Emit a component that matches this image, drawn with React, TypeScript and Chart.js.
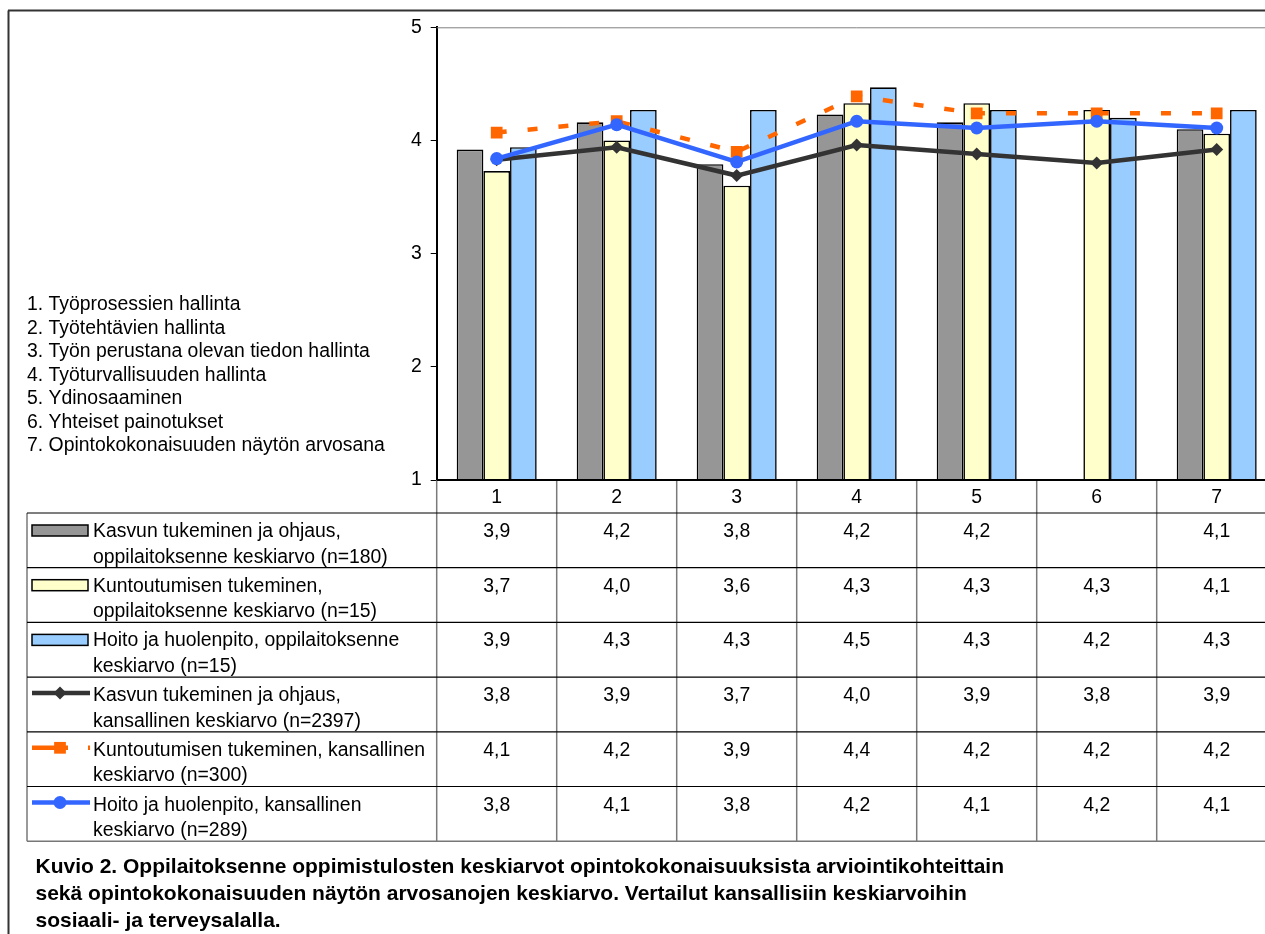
import { useEffect, useRef } from "react";
import { Chart, registerables } from "chart.js";

Chart.register(...registerables);

const categories = ["1", "2", "3", "4", "5", "6", "7"];
const categoryNames = [
  "1. Työprosessien hallinta",
  "2. Työtehtävien hallinta",
  "3. Työn perustana olevan tiedon hallinta",
  "4. Työturvallisuuden hallinta",
  "5. Ydinosaaminen",
  "6. Yhteiset painotukset",
  "7. Opintokokonaisuuden näytön arvosana",
];
const kasvunLocal = [3.92, 4.16, 3.79, 4.23, 4.16, null, 4.1];
const kuntoLocal = [3.73, 4.0, 3.6, 4.33, 4.33, 4.27, 4.06];
const hoitoLocal = [3.94, 4.27, 4.27, 4.47, 4.27, 4.2, 4.27];
const kasvunNational = [3.83, 3.94, 3.69, 3.96, 3.88, 3.8, 3.92];
const kuntoNational = [4.07, 4.17, 3.9, 4.39, 4.24, 4.24, 4.24];
const hoitoNational = [3.84, 4.14, 3.81, 4.17, 4.11, 4.17, 4.11];

const seriesLabels = [
  ["Kasvun tukeminen ja ohjaus,", "oppilaitoksenne keskiarvo (n=180)"],
  ["Kuntoutumisen tukeminen,", "oppilaitoksenne keskiarvo (n=15)"],
  ["Hoito ja huolenpito, oppilaitoksenne", "keskiarvo (n=15)"],
  ["Kasvun tukeminen ja ohjaus,", "kansallinen keskiarvo (n=2397)"],
  ["Kuntoutumisen tukeminen, kansallinen", "keskiarvo (n=300)"],
  ["Hoito ja huolenpito, kansallinen", "keskiarvo (n=289)"],
];
const yMin = 1;
const yMax = 5;
const captionLines = [
  "Kuvio 2. Oppilaitoksenne oppimistulosten keskiarvot opintokokonaisuuksista arviointikohteittain",
  "sekä opintokokonaisuuden näytön arvosanojen keskiarvo. Vertailut kansallisiin keskiarvoihin",
  "sosiaali- ja terveysalalla.",
];

const FONT = '"Liberation Sans", Arial, Helvetica, sans-serif';
const TEXT_SIZE = 19.4;

const fmt = (v: number | null) => (v == null ? "" : v.toFixed(1).replace(".", ","));

const tablePlugin = {
  id: "excelTable",
  afterDraw(chart: any) {
    const ctx = chart.ctx as CanvasRenderingContext2D;
    const area = chart.chartArea;
    const xs = chart.scales.x;
    const n = categories.length;
    const colW = (area.right - area.left) / n;
    const tableLeft = 27;
    const headerTop = area.bottom;
    const rowTop0 = 513;
    const rowH = 54.7;
    const nRows = chart.data.datasets.length;
    const tableBottom = rowTop0 + nRows * rowH;

    ctx.save();

    // outer frame
    ctx.strokeStyle = "#333";
    ctx.lineWidth = 2;
    ctx.beginPath();
    ctx.moveTo(8, 10.5);
    ctx.lineTo(1300, 10.5);
    ctx.moveTo(8.5, 10.5);
    ctx.lineTo(8.5, 940);
    ctx.stroke();

    // plot area top border
    ctx.strokeStyle = "#808080";
    ctx.lineWidth = 1;
    ctx.beginPath();
    ctx.moveTo(area.left, area.top + 0.5);
    ctx.lineTo(area.right, area.top + 0.5);
    ctx.stroke();

    // vertical table lines
    ctx.strokeStyle = "#7a7a7a";
    ctx.lineWidth = 1.5;
    ctx.beginPath();
    for (let k = 0; k <= n; k++) {
      const xx = area.left + k * colW;
      ctx.moveTo(xx, headerTop);
      ctx.lineTo(xx, tableBottom);
    }
    ctx.moveTo(tableLeft, rowTop0);
    ctx.lineTo(tableLeft, tableBottom);
    ctx.stroke();

    // horizontal lines
    ctx.strokeStyle = "#000";
    ctx.lineWidth = 1.2;
    ctx.beginPath();
    for (let r = 0; r < nRows; r++) {
      const yy = rowTop0 + r * rowH;
      ctx.moveTo(tableLeft, yy);
      ctx.lineTo(area.right, yy);
    }
    ctx.stroke();
    ctx.strokeStyle = "#777";
    ctx.lineWidth = 1.5;
    ctx.beginPath();
    ctx.moveTo(tableLeft, tableBottom);
    ctx.lineTo(area.right, tableBottom);
    ctx.stroke();

    // x axis line
    ctx.strokeStyle = "#000";
    ctx.lineWidth = 2;
    ctx.beginPath();
    ctx.moveTo(area.left, area.bottom);
    ctx.lineTo(area.right, area.bottom);
    ctx.stroke();

    // header labels
    ctx.fillStyle = "#000";
    ctx.font = `${TEXT_SIZE}px ${FONT}`;
    ctx.textAlign = "center";
    ctx.textBaseline = "alphabetic";
    categories.forEach((c, i) => {
      ctx.fillText(c, xs.getPixelForValue(i), headerTop + 23);
    });

    // rows
    chart.data.datasets.forEach((ds: any, r: number) => {
      const top = rowTop0 + r * rowH;
      ctx.textAlign = "center";
      ctx.fillStyle = "#000";
      ds.data.forEach((v: number | null, i: number) => {
        ctx.fillText(fmt(v), xs.getPixelForValue(i), top + 24);
      });
      ctx.textAlign = "left";
      const lines = seriesLabels[r];
      ctx.fillText(lines[0], 93, top + 24);
      ctx.fillText(lines[1], 93, top + 49.5);
      if (ds.type === "bar") {
        ctx.fillStyle = ds.backgroundColor;
        ctx.fillRect(32, top + 12, 56, 11);
        ctx.strokeStyle = "#000";
        ctx.lineWidth = 1.5;
        ctx.strokeRect(32, top + 12, 56, 11);
      } else {
        const cy = top + 16;
        ctx.strokeStyle = ds.borderColor;
        ctx.lineWidth = ds.borderWidth;
        ctx.setLineDash(ds.borderDash && ds.borderDash.length ? [36, 20] : []);
        ctx.beginPath();
        ctx.moveTo(32, cy);
        ctx.lineTo(90, cy);
        ctx.stroke();
        ctx.setLineDash([]);
        ctx.fillStyle = ds.borderColor;
        const mx = 60;
        const rr = ds.pointRadius;
        ctx.beginPath();
        if (ds.pointStyle === "circle") {
          ctx.arc(mx, cy, rr, 0, Math.PI * 2);
        } else if (ds.pointStyle === "rectRot") {
          ctx.moveTo(mx, cy - rr);
          ctx.lineTo(mx + rr, cy);
          ctx.lineTo(mx, cy + rr);
          ctx.lineTo(mx - rr, cy);
          ctx.closePath();
        } else {
          const h = rr * Math.SQRT1_2;
          ctx.rect(mx - h, cy - h, 2 * h, 2 * h);
        }
        ctx.fill();
      }
    });

    // category list
    ctx.fillStyle = "#000";
    ctx.textAlign = "left";
    ctx.font = `${TEXT_SIZE}px ${FONT}`;
    categoryNames.forEach((t, i) => {
      ctx.fillText(t, 27, 310 + i * 23.5);
    });

    // caption
    ctx.font = `bold 21px ${FONT}`;
    captionLines.forEach((t, i) => {
      ctx.fillText(t, 35.5, 873 + i * 27);
    });

    ctx.restore();
  },
};

export default function App() {
  const ref = useRef<HTMLCanvasElement | null>(null);

  useEffect(() => {
    if (!ref.current) return;
    const barCommon = {
      type: "bar" as const,
      borderColor: "#000000",
      borderWidth: 1.6,
      borderSkipped: "start",
      categoryPercentage: 0.6667,
      barPercentage: 1,
      base: yMin,
      order: 4,
    };
    const chart = new Chart(ref.current, {
      type: "bar",
      data: {
        labels: categories,
        datasets: [
          { ...barCommon, label: seriesLabels[0].join(" "), data: kasvunLocal, backgroundColor: "#969696" },
          { ...barCommon, label: seriesLabels[1].join(" "), data: kuntoLocal, backgroundColor: "#FFFFCC" },
          { ...barCommon, label: seriesLabels[2].join(" "), data: hoitoLocal, backgroundColor: "#99CCFF" },
          {
            type: "line",
            label: seriesLabels[3].join(" "),
            data: kasvunNational,
            borderColor: "#333333",
            backgroundColor: "#333333",
            pointBackgroundColor: "#333333",
            borderWidth: 4.5,
            pointStyle: "rectRot",
            pointRadius: 6.5,
            pointBorderWidth: 0,
            tension: 0,
            order: 3,
          },
          {
            type: "line",
            label: seriesLabels[4].join(" "),
            data: kuntoNational,
            borderColor: "#FF6600",
            backgroundColor: "#FF6600",
            pointBackgroundColor: "#FF6600",
            borderWidth: 4.5,
            borderDash: [10, 21],
            pointStyle: "rect",
            pointRadius: 8.3,
            pointBorderWidth: 0,
            tension: 0,
            order: 2,
          },
          {
            type: "line",
            label: seriesLabels[5].join(" "),
            data: hoitoNational,
            borderColor: "#3366FF",
            backgroundColor: "#3366FF",
            pointBackgroundColor: "#3366FF",
            borderWidth: 4.5,
            pointStyle: "circle",
            pointRadius: 6.5,
            pointBorderWidth: 0,
            tension: 0,
            order: 1,
          },
        ] as any,
      },
      options: {
        animation: false,
        responsive: false,
        devicePixelRatio: 1,
        layout: { padding: { left: 400.7, right: 13.3, top: 27.3, bottom: 454 } },
        plugins: { legend: { display: false }, tooltip: { enabled: false }, title: { display: false } },
        scales: {
          x: { display: false, offset: true },
          y: {
            min: yMin,
            max: yMax,
            afterFit: (scale: any) => {
              scale.width = 36;
            },
            ticks: {
              stepSize: 1,
              color: "#000",
              padding: 9,
              font: { family: FONT, size: TEXT_SIZE },
            },
            grid: {
              drawOnChartArea: false,
              drawTicks: true,
              tickLength: 6,
              color: "#000",
              lineWidth: 1,
            },
            border: { display: true, color: "#000", width: 2 },
          },
        },
      } as any,
      plugins: [tablePlugin],
    });
    return () => chart.destroy();
  }, []);

  return (
    <div
      style={{
        position: "absolute",
        left: 0,
        top: 0,
        width: 1265,
        height: 934,
        overflow: "hidden",
        background: "#fff",
      }}
    >
      <canvas ref={ref} width={1290} height={934} style={{ display: "block" }} />
    </div>
  );
}
